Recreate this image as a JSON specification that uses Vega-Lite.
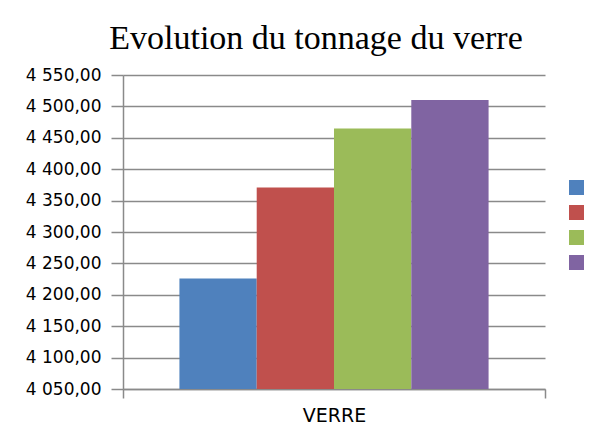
{
  "$schema": "https://vega.github.io/schema/vega-lite/v6.json",
  "autosize": {"type": "none"},
  "width": 422,
  "height": 314,
  "padding": {"left": 123, "top": 75, "right": 66, "bottom": 51},
  "background": "white",
  "title": {
    "text": "Evolution du tonnage du verre",
    "font": "Liberation Serif",
    "fontSize": 34,
    "fontWeight": "normal",
    "color": "black",
    "anchor": "middle",
    "dx": -18,
    "offset": 10
  },
  "data": {
    "values": [
      {"categorie": "VERRE", "serie": "Série 1", "tonnage": 4226},
      {"categorie": "VERRE", "serie": "Série 2", "tonnage": 4371},
      {"categorie": "VERRE", "serie": "Série 3", "tonnage": 4465},
      {"categorie": "VERRE", "serie": "Série 4", "tonnage": 4510}
    ]
  },
  "mark": {"type": "bar", "clip": true},
  "encoding": {
    "x": {
      "field": "categorie",
      "type": "nominal",
      "scale": {"paddingInner": 0, "paddingOuter": 0},
      "axis": {
        "title": null,
        "labelAngle": 0,
        "tickBand": "extent",
        "tickSize": 9,
        "tickColor": "#8a8a8a",
        "tickWidth": 1.5,
        "domainColor": "#8a8a8a",
        "domainWidth": 1.5,
        "labelFont": "DejaVu Sans",
        "labelFontSize": 19,
        "labelColor": "black",
        "labelPadding": 8,
        "grid": false
      }
    },
    "xOffset": {
      "field": "serie",
      "type": "nominal",
      "scale": {"paddingInner": 0, "paddingOuter": 0.73}
    },
    "y": {
      "field": "tonnage",
      "type": "quantitative",
      "scale": {"domain": [4050, 4550], "nice": false, "zero": false},
      "axis": {
        "title": null,
        "values": [4050, 4100, 4150, 4200, 4250, 4300, 4350, 4400, 4450, 4500, 4550],
        "format": ",.2f",
        "tickSize": 12,
        "tickColor": "#8a8a8a",
        "tickWidth": 1.5,
        "domainColor": "#8a8a8a",
        "domainWidth": 1.5,
        "gridColor": "#8a8a8a",
        "gridWidth": 1.5,
        "labelFont": "DejaVu Sans",
        "labelFontSize": 17,
        "labelColor": "black",
        "labelPadding": 10
      }
    },
    "color": {
      "field": "serie",
      "type": "nominal",
      "scale": {"range": ["#4F81BD", "#C0504D", "#9BBB59", "#8064A2"]},
      "legend": {
        "orient": "none",
        "legendX": 446,
        "legendY": 105,
        "title": null,
        "symbolType": "square",
        "symbolSize": 225,
        "symbolStrokeWidth": 0,
        "labelExpr": "''",
        "labelFontSize": 1,
        "rowPadding": 10,
        "padding": 0
      }
    }
  },
  "config": {
    "view": {"stroke": null},
    "locale": {
      "number": {
        "decimal": ",",
        "thousands": "\u00a0",
        "grouping": [3],
        "currency": ["", "\u00a0€"]
      }
    }
  }
}
